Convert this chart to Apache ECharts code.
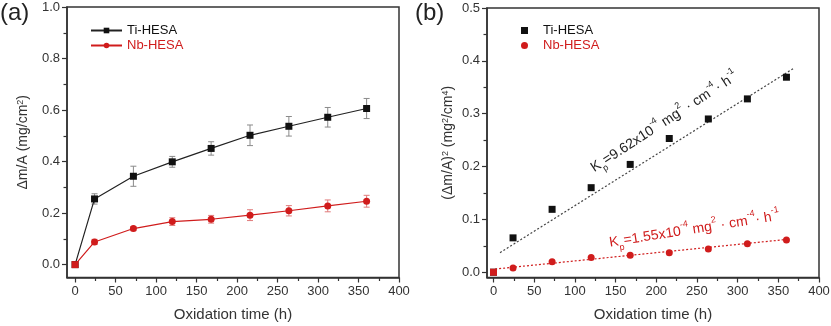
<!DOCTYPE html>
<html>
<head>
<meta charset="utf-8">
<script src="https://cdn.jsdelivr.net/npm/echarts@6/dist/echarts.min.js"></script>
<style>
  html, body { margin: 0; padding: 0; background: #fff; }
  #c { width: 831px; height: 326px; }
</style>
</head>
<body>
<div id="c"></div>
<script>
// Oxidation time (h) at each weighing
const hours = [0, 24, 72, 120, 168, 216, 264, 312, 360];

// Panel (a): specific mass gain Δm/A (mg/cm²) with standard deviation
const tiGain = [0, 0.255, 0.343, 0.399, 0.451, 0.502, 0.537, 0.572, 0.606];
const tiErr  = [0, 0.020, 0.039, 0.021, 0.026, 0.040, 0.038, 0.038, 0.039];
const nbGain = [0, 0.088, 0.140, 0.167, 0.176, 0.192, 0.209, 0.228, 0.246];
const nbErr  = [0, 0.010, 0.008, 0.015, 0.015, 0.021, 0.020, 0.023, 0.023];

// Panel (b): squared mass gain (Δm/A)² (mg²/cm⁴)
const tiSq = [0, 0.065, 0.119, 0.160, 0.204, 0.253, 0.290, 0.328, 0.369];
const nbSq = [0, 0.008, 0.020, 0.028, 0.032, 0.037, 0.044, 0.054, 0.061];

// Parabolic-rate fit lines (end points)
const tiFitX = [8, 369];
const tiFitY = [0.037, 0.386];
const nbFitX = [2, 360];
const nbFitY = [0.006, 0.062];

// Tick positions
const xMajor  = [0, 50, 100, 150, 200, 250, 300, 350, 400];
const xMinor  = [25, 75, 125, 175, 225, 275, 325, 375];
const yMajorA = [0, 0.2, 0.4, 0.6, 0.8, 1.0];
const yMinorA = [0.1, 0.3, 0.5, 0.7, 0.9];
const yMajorB = [0, 0.1, 0.2, 0.3, 0.4, 0.5];
const yMinorB = [0.05, 0.15, 0.25, 0.35, 0.45];

const FONT = "'Liberation Sans', Arial, Helvetica, sans-serif";
const AXIS_COLOR = '#333';
const BLACK = '#111';
const RED = '#d01c1c';

// Plot-area geometry of the two panels
const GRID_A = { left: 67, top: 7, width: 332, height: 270.5 };
const GRID_B = { left: 487, top: 8, width: 332, height: 269.5 };

function mainAxis(gridIndex, min, max, major, fmt, extra) {
  return Object.assign({
    type: 'value', gridIndex, min, max,
    axisLine: { show: true, onZero: false, lineStyle: { color: AXIS_COLOR, width: 1.5 } },
    axisTick: { show: true, inside: false, length: 5, customValues: major,
                lineStyle: { color: AXIS_COLOR, width: 1.2 } },
    axisLabel: { customValues: major, formatter: fmt, fontFamily: FONT, fontSize: 13,
                 color: '#333', margin: 7 },
    splitLine: { show: false },
    nameLocation: 'middle',
    nameMoveOverlap: false,
    nameTextStyle: { fontFamily: FONT, fontSize: 15, color: '#333' }
  }, extra || {});
}
// Minor ticks live on a companion axis that sits on the opposite side of the grid
// and is shifted back onto the main axis line; ticks point inward there, i.e. outward
// from the main axis.
function minorAxis(gridIndex, min, max, minor, position, offset) {
  return {
    type: 'value', gridIndex, min, max, position, offset,
    axisLine: { show: false, onZero: false },
    axisTick: { show: true, inside: true, length: 3.5, customValues: minor,
                lineStyle: { color: AXIS_COLOR, width: 1.2 } },
    axisLabel: { show: false },
    splitLine: { show: false }
  };
}

function errorBars(vals, errs, color, xi, yi) {
  return {
    type: 'custom', xAxisIndex: xi, yAxisIndex: yi, z: 1, silent: true,
    data: hours.map((h, i) => [h, vals[i], errs[i]]).filter(d => d[2] > 0),
    renderItem: function (params, api) {
      const x = api.value(0), y = api.value(1), e = api.value(2);
      const hi = api.coord([x, y + e]);
      const lo = api.coord([x, y - e]);
      const w = 3;
      const st = { stroke: color, lineWidth: 1 };
      return {
        type: 'group',
        children: [
          { type: 'line', shape: { x1: hi[0], y1: hi[1], x2: lo[0], y2: lo[1] }, style: st },
          { type: 'line', shape: { x1: hi[0] - w, y1: hi[1], x2: hi[0] + w, y2: hi[1] }, style: st },
          { type: 'line', shape: { x1: lo[0] - w, y1: lo[1], x2: lo[0] + w, y2: lo[1] }, style: st }
        ]
      };
    }
  };
}

const pairs = (xs, ys) => xs.map((x, i) => [x, ys[i]]);
const nbPoints = (ys) => hours.map((h, i) =>
  i === 0 ? { value: [h, ys[i]], symbol: 'rect', symbolSize: 7 } : [h, ys[i]]);

const gridStyle = { show: true, borderColor: AXIS_COLOR, borderWidth: 1.5,
                    backgroundColor: 'transparent', outerBoundsMode: 'none' };

const chart = echarts.init(document.getElementById('c'));

chart.setOption({
  animation: false,
  backgroundColor: '#fff',
  textStyle: { fontFamily: FONT },
  grid: [
    Object.assign({}, GRID_A, gridStyle),
    Object.assign({}, GRID_B, gridStyle)
  ],
  xAxis: [
    mainAxis(0, -10, 400, xMajor, v => String(v), { name: 'Oxidation time (h)', nameGap: 30, position: 'bottom' }),
    minorAxis(0, -10, 400, xMinor, 'top', -GRID_A.height),
    mainAxis(1, -8, 400, xMajor, v => String(v), { name: 'Oxidation time (h)', nameGap: 30, position: 'bottom' }),
    minorAxis(1, -8, 400, xMinor, 'top', -GRID_B.height)
  ],
  yAxis: [
    mainAxis(0, -0.05, 1.0, yMajorA, v => v.toFixed(1), {
      name: 'Δm/A (mg/cm{sup|2})', nameGap: 37, position: 'left',
      nameTextStyle: { fontFamily: FONT, fontSize: 14, color: '#333',
        rich: { sup: { fontSize: 9, verticalAlign: 'top', fontFamily: FONT, color: '#333' } } }
    }),
    minorAxis(0, -0.05, 1.0, yMinorA, 'right', -GRID_A.width),
    mainAxis(1, -0.01, 0.5, yMajorB, v => v.toFixed(1), {
      name: '(Δm/A){sup|2} (mg{sup|2}/cm{sup|4})', nameGap: 32, position: 'left',
      nameTextStyle: { fontFamily: FONT, fontSize: 14, color: '#333',
        rich: { sup: { fontSize: 9, verticalAlign: 'top', fontFamily: FONT, color: '#333' } } }
    }),
    minorAxis(1, -0.01, 0.5, yMinorB, 'right', -GRID_B.width)
  ],
  legend: [
    {
      left: 90, top: 24, orient: 'vertical', padding: 0, itemGap: 2,
      itemWidth: 31, itemHeight: 7,
      textStyle: { fontFamily: FONT, fontSize: 13 },
      data: [
        { name: 'Ti-HESA', textStyle: { color: BLACK } },
        { name: 'Nb-HESA', textStyle: { color: RED } }
      ]
    },
    {
      left: 521, top: 24, orient: 'vertical', padding: 0, itemGap: 2,
      itemWidth: 7, itemHeight: 7,
      data: [
        { name: 'Ti-HESA', icon: 'rect', itemStyle: { color: BLACK },
          textStyle: { color: BLACK, fontFamily: FONT, fontSize: 13, padding: [0, 0, 0, 10] } },
        { name: 'Nb-HESA', icon: 'circle', itemStyle: { color: RED },
          textStyle: { color: RED, fontFamily: FONT, fontSize: 13, padding: [0, 0, 0, 10] } }
      ]
    }
  ],
  series: [
    errorBars(tiGain, tiErr, '#8a8a8a', 0, 0),
    errorBars(nbGain, nbErr, '#e07a7a', 0, 0),
    {
      name: 'Ti-HESA', type: 'line', xAxisIndex: 0, yAxisIndex: 0, z: 3,
      data: pairs(hours, tiGain), symbol: 'rect', symbolSize: 7,
      itemStyle: { color: BLACK }, lineStyle: { color: '#222', width: 1.2 }
    },
    {
      name: 'Nb-HESA', type: 'line', xAxisIndex: 0, yAxisIndex: 0, z: 4,
      data: nbPoints(nbGain), symbol: 'circle', symbolSize: 7,
      itemStyle: { color: RED }, lineStyle: { color: RED, width: 1.2 }
    },
    {
      type: 'line', xAxisIndex: 2, yAxisIndex: 2, z: 2, symbol: 'none', silent: true,
      data: pairs(tiFitX, tiFitY), lineStyle: { color: '#444', width: 1.2, type: [2, 2] }
    },
    {
      type: 'line', xAxisIndex: 2, yAxisIndex: 2, z: 2, symbol: 'none', silent: true,
      data: pairs(nbFitX, nbFitY), lineStyle: { color: RED, width: 1.2, type: [2, 2] }
    },
    {
      name: 'Ti-HESA', type: 'scatter', xAxisIndex: 2, yAxisIndex: 2, z: 3,
      data: pairs(hours, tiSq), symbol: 'rect', symbolSize: 7, itemStyle: { color: BLACK, opacity: 1 }
    },
    {
      name: 'Nb-HESA', type: 'scatter', xAxisIndex: 2, yAxisIndex: 2, z: 4,
      data: nbPoints(nbSq), symbol: 'circle', symbolSize: 7, itemStyle: { color: RED, opacity: 1 }
    }
  ]
});

// Rate-constant annotations placed along the fit lines of panel (b)
const kRich = (color) => ({
  sub: { fontSize: 9, verticalAlign: 'bottom', fill: color, fontFamily: FONT, lineHeight: 22 },
  sup: { fontSize: 9, verticalAlign: 'top', fill: color, fontFamily: FONT, lineHeight: 22 },
  b:   { fontSize: 14, verticalAlign: 'middle', fill: color, fontFamily: FONT, lineHeight: 22 }
});
const tiLabelPos = chart.convertToPixel({ seriesIndex: 6 }, [210, 0.284]);
const nbLabelPos = chart.convertToPixel({ seriesIndex: 6 }, [247, 0.081]);

chart.setOption({
  graphic: [
    { type: 'text', left: 0, top: 1, style: { text: '(a)', fontFamily: FONT, fontSize: 24, fill: '#222' } },
    { type: 'text', left: 415, top: 1, style: { text: '(b)', fontFamily: FONT, fontSize: 24, fill: '#222' } },
    {
      type: 'text', x: tiLabelPos[0], y: tiLabelPos[1], rotation: 33 * Math.PI / 180,
      style: {
        text: '{b|K}{sub|p}{b|=9.62x10}{sup|-4}{b| mg}{sup|2}{b| · cm}{sup|-4}{b|· h}{sup|-1}',
        rich: kRich('#222'), align: 'center', verticalAlign: 'middle', fill: '#222'
      }
    },
    {
      type: 'text', x: nbLabelPos[0], y: nbLabelPos[1], rotation: 9 * Math.PI / 180,
      style: {
        text: '{b|K}{sub|p}{b|=1.55x10}{sup|-4}{b| mg}{sup|2}{b| · cm}{sup|-4}{b|· h}{sup|-1}',
        rich: kRich(RED), align: 'center', verticalAlign: 'middle', fill: RED
      }
    }
  ]
});
</script>
</body>
</html>
